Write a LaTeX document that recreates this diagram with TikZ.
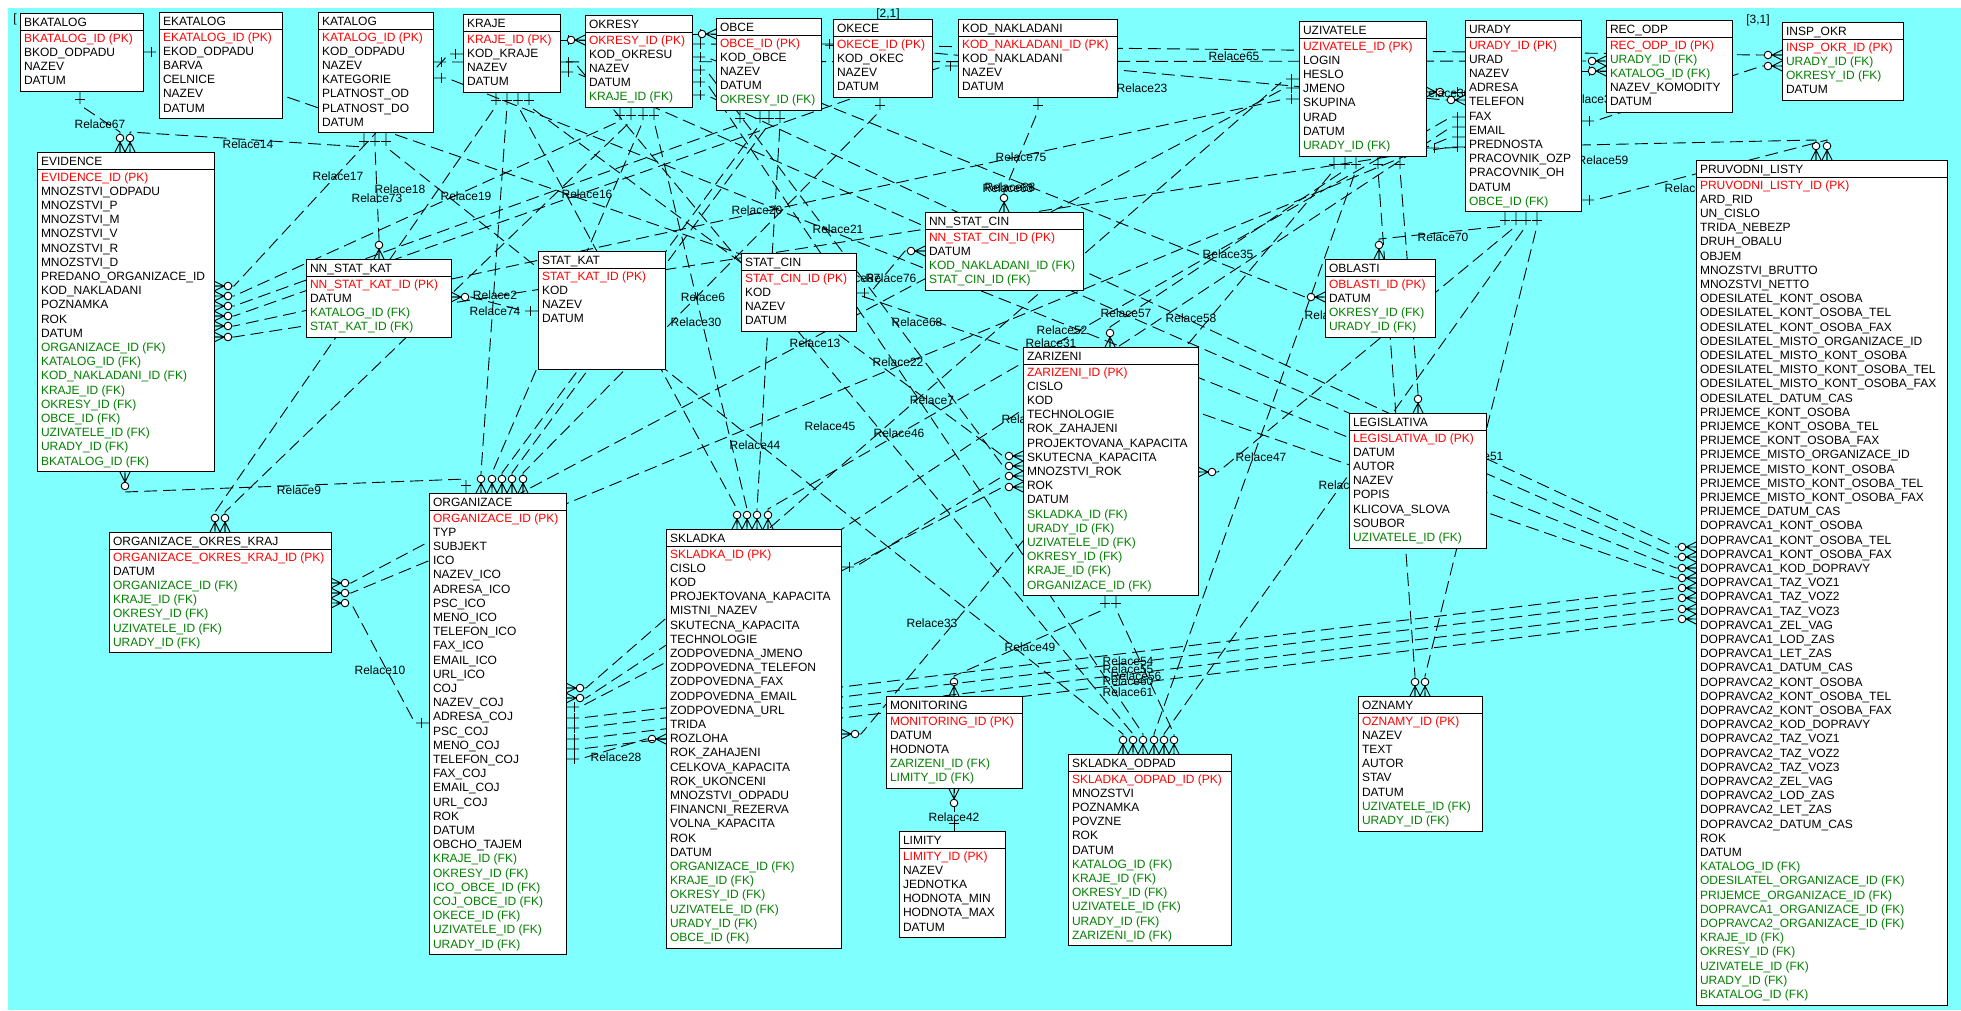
\documentclass[tikz,border=0pt]{standalone}
\usepackage{fontspec}
\setmainfont{Liberation Sans}
\usetikzlibrary{decorations.markings}
\definecolor{bgc}{RGB}{128,255,255}
\definecolor{pkred}{RGB}{255,0,0}
\definecolor{fkgreen}{RGB}{0,128,0}
\pgfdeclarelayer{back}
\pgfdeclarelayer{bg}
\pgfsetlayers{back,bg,main}
\newcommand\pkey[1]{\textcolor{pkred}{#1}}
\newcommand\fkey[1]{\textcolor{fkgreen}{#1}}
\tikzset{
  tabbox/.style={draw=black, fill=white, line width=1pt, inner sep=0pt, outer sep=0pt, rectangle},
  tabline/.style={draw=black, line width=1pt},
  tabtxt/.style={inner sep=0pt, outer sep=0pt, font=\fontsize{12}{14.2}\selectfont},
  lbl/.style={inner sep=0pt, outer sep=0pt, font=\fontsize{12}{14}\selectfont},
  relline/.style={draw=black, line width=0.9pt, dash pattern=on 13pt off 6pt,
    postaction={decorate},
    decoration={markings,
      mark=at position 8pt with {\draw[solid,line width=0.9pt] (0,-5pt) -- (0,5pt);},
      mark=at position -14pt with {\draw[solid,line width=0.9pt,fill=white] (0,0) circle (3.8pt);},
      mark=at position -10pt with {\draw[solid,line width=0.9pt] (0,0) -- (10pt,5pt) (0,0) -- (10pt,-5pt) (0,0) -- (10pt,0);}
    }}
}
\newcommand\etable[7]{%
  \expandafter\gdef\csname bx@#1\endcsname{#2}%
  \expandafter\gdef\csname by@#1\endcsname{#3}%
  \node[tabbox, minimum width=#4pt, minimum height=#5pt, anchor=north west] (#1) at (#2,#3) {};
  \draw[tabline] ([yshift=-17.5pt]#1.north west) -- ([yshift=-17.5pt]#1.north east);
  \node[tabtxt, anchor=base west] (#1-t) at ([shift={(4,13.5)}]#1.north west) {#6};
  \node[tabtxt, align=left, anchor=north west] (#1-r) at ([shift={(4,19)}]#1.north west) {\rule{0pt}{10pt}#7};
}
\newcommand\sidev[3]{\if#1n\def#2{0}\def#3{-1}\fi\if#1s\def#2{0}\def#3{1}\fi\if#1e\def#2{1}\def#3{0}\fi\if#1w\def#2{-1}\def#3{0}\fi}
\newcommand\erel[8]{%
  \edef\rpx{\csname bx@#1\endcsname}\edef\rpy{\csname by@#1\endcsname}%
  \edef\rcx{\csname bx@#5\endcsname}\edef\rcy{\csname by@#5\endcsname}%
  \sidev{#2}\pdxx\pdyy
  \sidev{#6}\cdxx\cdyy
  \path ([shift={({#3-\rpx},{#4-\rpy})}]#1.north west) coordinate (rp)
        ([shift={({#7-\rcx},{#8-\rcy})}]#5.north west) coordinate (rc);
  \draw[relline] (rp) -- ([shift={({14*\pdxx},{14*\pdyy})}]rp) -- ([shift={({20*\cdxx},{20*\cdyy})}]rc) -- (rc);
}
\newcommand\srelx[6]{%
  \edef\rpx{\csname bx@#1\endcsname}\edef\rpy{\csname by@#1\endcsname}%
  \edef\rcx{\csname bx@#4\endcsname}\edef\rcy{\csname by@#4\endcsname}%
  \path ([shift={({#2-\rpx},{#3-\rpy})}]#1.north west) coordinate (rp)
        ([shift={({#5-\rcx},{#6-\rcy})}]#4.north west) coordinate (rc);
  \draw[relline] (rp) -- (rc);
}
\newcommand\elabel[4]{\node[lbl] (#1) at (#2,#3) {#4};}
\begin{document}
\catcode`\_=12
\begin{tikzpicture}[x=1pt,y=-1pt]
\useasboundingbox (0,0) rectangle (1961,1010);
\begin{pgfonlayer}{back}
\fill[white] (0,0) rectangle (1961,1010);
\fill[bgc] (8,8) rectangle (1961,1010);
\end{pgfonlayer}

% ---------------- tables ----------------
\etable{bkatalog}{20}{13}{123}{78.3}{BKATALOG}{\pkey{BKATALOG_ID (PK)}\\BKOD_ODPADU\\NAZEV\\DATUM}
\etable{ekatalog}{159}{12}{123}{106.7}{EKATALOG}{\pkey{EKATALOG_ID (PK)}\\EKOD_ODPADU\\BARVA\\CELNICE\\NAZEV\\DATUM}
\etable{katalog}{318}{12}{115}{120.9}{KATALOG}{\pkey{KATALOG_ID (PK)}\\KOD_ODPADU\\NAZEV\\KATEGORIE\\PLATNOST_OD\\PLATNOST_DO\\DATUM}
\etable{kraje}{463}{14}{97}{78.3}{KRAJE}{\pkey{KRAJE_ID (PK)}\\KOD_KRAJE\\NAZEV\\DATUM}
\etable{okresy}{585}{15}{107}{92.5}{OKRESY}{\pkey{OKRESY_ID (PK)}\\KOD_OKRESU\\NAZEV\\DATUM\\\fkey{KRAJE_ID (FK)}}
\etable{obce}{716}{18}{105}{92.5}{OBCE}{\pkey{OBCE_ID (PK)}\\KOD_OBCE\\NAZEV\\DATUM\\\fkey{OKRESY_ID (FK)}}
\etable{okece}{833}{19}{99}{78.3}{OKECE}{\pkey{OKECE_ID (PK)}\\KOD_OKEC\\NAZEV\\DATUM}
\etable{kodnakl}{958}{19}{159}{78.3}{KOD_NAKLADANI}{\pkey{KOD_NAKLADANI_ID (PK)}\\KOD_NAKLADANI\\NAZEV\\DATUM}
\etable{uzivatele}{1299}{21}{127}{135.1}{UZIVATELE}{\pkey{UZIVATELE_ID (PK)}\\LOGIN\\HESLO\\JMENO\\SKUPINA\\URAD\\DATUM\\\fkey{URADY_ID (FK)}}
\etable{urady}{1465}{20}{116}{191.9}{URADY}{\pkey{URADY_ID (PK)}\\URAD\\NAZEV\\ADRESA\\TELEFON\\FAX\\EMAIL\\PREDNOSTA\\PRACOVNIK_OZP\\PRACOVNIK_OH\\DATUM\\\fkey{OBCE_ID (FK)}}
\etable{recodp}{1606}{20}{126}{92.5}{REC_ODP}{\pkey{REC_ODP_ID (PK)}\\\fkey{URADY_ID (FK)}\\\fkey{KATALOG_ID (FK)}\\NAZEV_KOMODITY\\DATUM}
\etable{inspokr}{1782}{22}{121}{78.3}{INSP_OKR}{\pkey{INSP_OKR_ID (PK)}\\\fkey{URADY_ID (FK)}\\\fkey{OKRESY_ID (FK)}\\DATUM}
\etable{evidence}{37}{152}{177}{319.7}{EVIDENCE}{\pkey{EVIDENCE_ID (PK)}\\MNOZSTVI_ODPADU\\MNOZSTVI_P\\MNOZSTVI_M\\MNOZSTVI_V\\MNOZSTVI_R\\MNOZSTVI_D\\PREDANO_ORGANIZACE_ID\\KOD_NAKLADANI\\POZNAMKA\\ROK\\DATUM\\\fkey{ORGANIZACE_ID (FK)}\\\fkey{KATALOG_ID (FK)}\\\fkey{KOD_NAKLADANI_ID (FK)}\\\fkey{KRAJE_ID (FK)}\\\fkey{OKRESY_ID (FK)}\\\fkey{OBCE_ID (FK)}\\\fkey{UZIVATELE_ID (FK)}\\\fkey{URADY_ID (FK)}\\\fkey{BKATALOG_ID (FK)}}
\etable{nnstatkat}{306}{259}{145}{78.3}{NN_STAT_KAT}{\pkey{NN_STAT_KAT_ID (PK)}\\DATUM\\\fkey{KATALOG_ID (FK)}\\\fkey{STAT_KAT_ID (FK)}}
\etable{statkat}{538}{251}{127}{118}{STAT_KAT}{\pkey{STAT_KAT_ID (PK)}\\KOD\\NAZEV\\DATUM}
\etable{statcin}{741}{253}{115}{78.3}{STAT_CIN}{\pkey{STAT_CIN_ID (PK)}\\KOD\\NAZEV\\DATUM}
\etable{nnstatcin}{925}{212}{158}{78.3}{NN_STAT_CIN}{\pkey{NN_STAT_CIN_ID (PK)}\\DATUM\\\fkey{KOD_NAKLADANI_ID (FK)}\\\fkey{STAT_CIN_ID (FK)}}
\etable{oblasti}{1325}{259}{110}{78.3}{OBLASTI}{\pkey{OBLASTI_ID (PK)}\\DATUM\\\fkey{OKRESY_ID (FK)}\\\fkey{URADY_ID (FK)}}
\etable{zarizeni}{1023}{347}{175}{248.7}{ZARIZENI}{\pkey{ZARIZENI_ID (PK)}\\CISLO\\KOD\\TECHNOLOGIE\\ROK_ZAHAJENI\\PROJEKTOVANA_KAPACITA\\SKUTECNA_KAPACITA\\MNOZSTVI_ROK\\ROK\\DATUM\\\fkey{SKLADKA_ID (FK)}\\\fkey{URADY_ID (FK)}\\\fkey{UZIVATELE_ID (FK)}\\\fkey{OKRESY_ID (FK)}\\\fkey{KRAJE_ID (FK)}\\\fkey{ORGANIZACE_ID (FK)}}
\etable{legislativa}{1349}{413}{137}{135.1}{LEGISLATIVA}{\pkey{LEGISLATIVA_ID (PK)}\\DATUM\\AUTOR\\NAZEV\\POPIS\\KLICOVA_SLOVA\\SOUBOR\\\fkey{UZIVATELE_ID (FK)}}
\etable{ookraj}{109}{532}{222}{120.9}{ORGANIZACE_OKRES_KRAJ}{\pkey{ORGANIZACE_OKRES_KRAJ_ID (PK)}\\DATUM\\\fkey{ORGANIZACE_ID (FK)}\\\fkey{KRAJE_ID (FK)}\\\fkey{OKRESY_ID (FK)}\\\fkey{UZIVATELE_ID (FK)}\\\fkey{URADY_ID (FK)}}
\etable{organizace}{429}{493}{137}{461.7}{ORGANIZACE}{\pkey{ORGANIZACE_ID (PK)}\\TYP\\SUBJEKT\\ICO\\NAZEV_ICO\\ADRESA_ICO\\PSC_ICO\\MENO_ICO\\TELEFON_ICO\\FAX_ICO\\EMAIL_ICO\\URL_ICO\\COJ\\NAZEV_COJ\\ADRESA_COJ\\PSC_COJ\\MENO_COJ\\TELEFON_COJ\\FAX_COJ\\EMAIL_COJ\\URL_COJ\\ROK\\DATUM\\OBCHO_TAJEM\\\fkey{KRAJE_ID (FK)}\\\fkey{OKRESY_ID (FK)}\\\fkey{ICO_OBCE_ID (FK)}\\\fkey{COJ_OBCE_ID (FK)}\\\fkey{OKECE_ID (FK)}\\\fkey{UZIVATELE_ID (FK)}\\\fkey{URADY_ID (FK)}}
\etable{skladka}{666}{529}{175}{419.1}{SKLADKA}{\pkey{SKLADKA_ID (PK)}\\CISLO\\KOD\\PROJEKTOVANA_KAPACITA\\MISTNI_NAZEV\\SKUTECNA_KAPACITA\\TECHNOLOGIE\\ZODPOVEDNA_JMENO\\ZODPOVEDNA_TELEFON\\ZODPOVEDNA_FAX\\ZODPOVEDNA_EMAIL\\ZODPOVEDNA_URL\\TRIDA\\ROZLOHA\\ROK_ZAHAJENI\\CELKOVA_KAPACITA\\ROK_UKONCENI\\MNOZSTVI_ODPADU\\FINANCNI_REZERVA\\VOLNA_KAPACITA\\ROK\\DATUM\\\fkey{ORGANIZACE_ID (FK)}\\\fkey{KRAJE_ID (FK)}\\\fkey{OKRESY_ID (FK)}\\\fkey{UZIVATELE_ID (FK)}\\\fkey{URADY_ID (FK)}\\\fkey{OBCE_ID (FK)}}
\etable{monitoring}{886}{696}{136}{92.5}{MONITORING}{\pkey{MONITORING_ID (PK)}\\DATUM\\HODNOTA\\\fkey{ZARIZENI_ID (FK)}\\\fkey{LIMITY_ID (FK)}}
\etable{limity}{899}{831}{106}{106.7}{LIMITY}{\pkey{LIMITY_ID (PK)}\\NAZEV\\JEDNOTKA\\HODNOTA_MIN\\HODNOTA_MAX\\DATUM}
\etable{skladkaodpad}{1068}{754}{163}{191.9}{SKLADKA_ODPAD}{\pkey{SKLADKA_ODPAD_ID (PK)}\\MNOZSTVI\\POZNAMKA\\POVZNE\\ROK\\DATUM\\\fkey{KATALOG_ID (FK)}\\\fkey{KRAJE_ID (FK)}\\\fkey{OKRESY_ID (FK)}\\\fkey{UZIVATELE_ID (FK)}\\\fkey{URADY_ID (FK)}\\\fkey{ZARIZENI_ID (FK)}}
\etable{oznamy}{1358}{696}{124}{135.1}{OZNAMY}{\pkey{OZNAMY_ID (PK)}\\NAZEV\\TEXT\\AUTOR\\STAV\\DATUM\\\fkey{UZIVATELE_ID (FK)}\\\fkey{URADY_ID (FK)}}
\etable{pruvodni}{1696}{160}{251}{845.1}{PRUVODNI_LISTY}{\pkey{PRUVODNI_LISTY_ID (PK)}\\ARD_RID\\UN_CISLO\\TRIDA_NEBEZP\\DRUH_OBALU\\OBJEM\\MNOZSTVI_BRUTTO\\MNOZSTVI_NETTO\\ODESILATEL_KONT_OSOBA\\ODESILATEL_KONT_OSOBA_TEL\\ODESILATEL_KONT_OSOBA_FAX\\ODESILATEL_MISTO_ORGANIZACE_ID\\ODESILATEL_MISTO_KONT_OSOBA\\ODESILATEL_MISTO_KONT_OSOBA_TEL\\ODESILATEL_MISTO_KONT_OSOBA_FAX\\ODESILATEL_DATUM_CAS\\PRIJEMCE_KONT_OSOBA\\PRIJEMCE_KONT_OSOBA_TEL\\PRIJEMCE_KONT_OSOBA_FAX\\PRIJEMCE_MISTO_ORGANIZACE_ID\\PRIJEMCE_MISTO_KONT_OSOBA\\PRIJEMCE_MISTO_KONT_OSOBA_TEL\\PRIJEMCE_MISTO_KONT_OSOBA_FAX\\PRIJEMCE_DATUM_CAS\\DOPRAVCA1_KONT_OSOBA\\DOPRAVCA1_KONT_OSOBA_TEL\\DOPRAVCA1_KONT_OSOBA_FAX\\DOPRAVCA1_KOD_DOPRAVY\\DOPRAVCA1_TAZ_VOZ1\\DOPRAVCA1_TAZ_VOZ2\\DOPRAVCA1_TAZ_VOZ3\\DOPRAVCA1_ZEL_VAG\\DOPRAVCA1_LOD_ZAS\\DOPRAVCA1_LET_ZAS\\DOPRAVCA1_DATUM_CAS\\DOPRAVCA2_KONT_OSOBA\\DOPRAVCA2_KONT_OSOBA_TEL\\DOPRAVCA2_KONT_OSOBA_FAX\\DOPRAVCA2_KOD_DOPRAVY\\DOPRAVCA2_TAZ_VOZ1\\DOPRAVCA2_TAZ_VOZ2\\DOPRAVCA2_TAZ_VOZ3\\DOPRAVCA2_ZEL_VAG\\DOPRAVCA2_LOD_ZAS\\DOPRAVCA2_LET_ZAS\\DOPRAVCA2_DATUM_CAS\\ROK\\DATUM\\\fkey{KATALOG_ID (FK)}\\\fkey{ODESILATEL_ORGANIZACE_ID (FK)}\\\fkey{PRIJEMCE_ORGANIZACE_ID (FK)}\\\fkey{DOPRAVCA1_ORGANIZACE_ID (FK)}\\\fkey{DOPRAVCA2_ORGANIZACE_ID (FK)}\\\fkey{KRAJE_ID (FK)}\\\fkey{OKRESY_ID (FK)}\\\fkey{UZIVATELE_ID (FK)}\\\fkey{URADY_ID (FK)}\\\fkey{BKATALOG_ID (FK)}}

% ---------------- relations (behind the tables) ----------------
\begin{pgfonlayer}{bg}
% BKATALOG
\erel{bkatalog}{s}{80}{91}{evidence}{n}{120}{152}
\erel{bkatalog}{e}{143}{52}{pruvodni}{w}{1696}{578}
% KATALOG
\erel{katalog}{s}{364}{133}{evidence}{n}{130}{152}
\erel{katalog}{s}{375}{133}{nnstatkat}{n}{379}{259}
\erel{katalog}{s}{386}{133}{skladkaodpad}{n}{1123}{754}
\erel{katalog}{e}{433}{62}{recodp}{w}{1606}{61}
\erel{katalog}{e}{433}{78}{pruvodni}{w}{1696}{568}
% KRAJE
\srelx{kraje}{560}{40}{okresy}{585}{40}
\erel{kraje}{w}{463}{54}{evidence}{e}{214}{286}
\erel{kraje}{s}{496}{92}{ookraj}{n}{215}{532}
\erel{kraje}{s}{507}{92}{organizace}{n}{481}{493}
\erel{kraje}{s}{518}{92}{skladka}{n}{737}{529}
\erel{kraje}{s}{529}{92}{zarizeni}{w}{1023}{456}
\erel{kraje}{e}{560}{62}{skladkaodpad}{n}{1133}{754}
\erel{kraje}{e}{560}{72}{pruvodni}{w}{1696}{557}
% OKRESY
\srelx{okresy}{692}{34}{obce}{716}{34}
\erel{okresy}{e}{692}{44}{inspokr}{w}{1782}{55}
\erel{okresy}{e}{692}{57}{oblasti}{w}{1325}{297}
\erel{okresy}{e}{692}{70}{zarizeni}{w}{1023}{466}
\erel{okresy}{e}{692}{82}{skladkaodpad}{n}{1143}{754}
\erel{okresy}{e}{692}{95}{pruvodni}{w}{1696}{547}
\erel{okresy}{s}{620}{107}{evidence}{e}{214}{296}
\erel{okresy}{s}{631}{107}{ookraj}{n}{225}{532}
\erel{okresy}{s}{643}{107}{organizace}{n}{492}{493}
\erel{okresy}{s}{654}{107}{skladka}{n}{747}{529}
% OBCE
\erel{obce}{e}{821}{44}{urady}{w}{1465}{100}
\erel{obce}{s}{740}{110}{evidence}{e}{214}{306}
\erel{obce}{s}{760}{110}{organizace}{n}{502}{493}
\erel{obce}{s}{769}{110}{organizace}{n}{512}{493}
\erel{obce}{s}{780}{110}{skladka}{n}{757}{529}
% OKECE
\erel{okece}{s}{880}{97}{organizace}{n}{523}{493}
% KOD_NAKLADANI
\erel{kodnakl}{s}{1038}{97}{nnstatcin}{n}{1004}{212}
\erel{kodnakl}{w}{958}{66}{evidence}{e}{214}{316}
% UZIVATELE
\erel{uzivatele}{w}{1299}{99}{evidence}{e}{214}{326}
\erel{uzivatele}{w}{1299}{88}{ookraj}{e}{331}{583}
\erel{uzivatele}{w}{1299}{79}{organizace}{e}{566}{688}
\erel{uzivatele}{s}{1334}{156}{skladka}{e}{841}{734}
\erel{uzivatele}{s}{1345}{156}{zarizeni}{n}{1110}{347}
\erel{uzivatele}{s}{1356}{156}{skladkaodpad}{n}{1154}{754}
\erel{uzivatele}{s}{1378}{156}{oznamy}{n}{1415}{696}
\erel{uzivatele}{s}{1400}{156}{legislativa}{n}{1418}{413}
\erel{uzivatele}{e}{1426}{148}{pruvodni}{n}{1816}{160}
% URADY
\srelx{urady}{1465}{92}{uzivatele}{1426}{92}
\srelx{urady}{1581}{71}{recodp}{1606}{71}
\erel{urady}{e}{1581}{121}{inspokr}{w}{1782}{66}
\erel{urady}{w}{1465}{147}{evidence}{e}{214}{337}
\erel{urady}{s}{1505}{212}{oblasti}{n}{1379}{259}
\erel{urady}{w}{1465}{137}{ookraj}{e}{331}{593}
\erel{urady}{w}{1465}{127}{organizace}{e}{566}{698}
\erel{urady}{w}{1465}{117}{skladka}{n}{768}{529}
\erel{urady}{s}{1516}{212}{zarizeni}{e}{1198}{472}
\erel{urady}{s}{1526}{212}{skladkaodpad}{n}{1164}{754}
\erel{urady}{s}{1537}{212}{oznamy}{n}{1425}{696}
\erel{urady}{e}{1581}{200}{pruvodni}{n}{1827}{160}
% ZARIZENI
\erel{zarizeni}{s}{1105}{595}{monitoring}{n}{954}{696}
\erel{zarizeni}{s}{1116}{595}{skladkaodpad}{n}{1174}{754}
% SKLADKA
\erel{skladka}{e}{841}{567}{zarizeni}{w}{1023}{476}
% ORGANIZACE
\erel{organizace}{n}{466}{493}{evidence}{s}{125}{472}
\erel{organizace}{w}{429}{723}{ookraj}{e}{331}{603}
\erel{organizace}{e}{566}{759}{skladka}{w}{666}{739}
\erel{organizace}{e}{566}{707}{zarizeni}{w}{1023}{487}
\erel{organizace}{e}{566}{718}{pruvodni}{w}{1696}{588}
\erel{organizace}{e}{566}{728}{pruvodni}{w}{1696}{598}
\erel{organizace}{e}{566}{739}{pruvodni}{w}{1696}{609}
\erel{organizace}{e}{566}{749}{pruvodni}{w}{1696}{619}
% STAT_KAT, STAT_CIN, LIMITY
\erel{statkat}{w}{538}{311}{nnstatkat}{e}{451}{297}
\erel{statcin}{e}{856}{293}{nnstatcin}{w}{925}{251}
\erel{limity}{n}{954}{831}{monitoring}{s}{954}{789}

% ---------------- labels ----------------
\elabel{l67}{100}{124}{Relace67}
\elabel{l14}{248}{144}{Relace14}
\elabel{l17}{338}{176}{Relace17}
\elabel{l18}{400}{189}{Relace18}
\elabel{l73}{377}{198}{Relace73}
\elabel{l19}{466}{196}{Relace19}
\elabel{l16}{587}{194}{Relace16}
\elabel{l2}{495}{295}{Relace2}
\elabel{l74}{495}{311}{Relace74}
\elabel{l65}{1234}{56}{Relace65}
\elabel{l23}{1142}{88}{Relace23}
\elabel{l75}{1021}{157}{Relace75}
\elabel{l63}{1008}{188}{Relace63}
\elabel{l88}{1010}{187}{Relace88}
\elabel{l20}{757}{210}{Relace20}
\elabel{l21}{838}{229}{Relace21}
\elabel{l35}{1228}{254}{Relace35}
\elabel{l87}{855}{278}{Relace87}
\elabel{l76}{891}{278}{Relace76}
\elabel{l68}{917}{322}{Relace68}
\elabel{l57}{1126}{313}{Relace57}
\elabel{l58}{1191}{318}{Relace58}
\elabel{l52}{1062}{330}{Relace52}
\elabel{l31}{1051}{343}{Relace31}
\elabel{l13}{815}{343}{Relace13}
\elabel{l6}{703}{297}{Relace6}
\elabel{l30}{696}{322}{Relace30}
\elabel{l59}{1603}{160}{Relace59}
\elabel{l70}{1443}{237}{Relace70}
\elabel{l62}{1690}{188}{Relace62}
\elabel{l36}{1445}{93}{Relace36}
\elabel{l38}{1592}{99}{Relace38}
\elabel{l53}{1330}{315}{Relace53}
\elabel{l51}{1478}{456}{Relace51}
\elabel{l50}{1344}{485}{Relace50}
\elabel{l22}{898}{362}{Relace22}
\elabel{l7}{932}{400}{Relace7}
\elabel{l45}{830}{426}{Relace45}
\elabel{l46}{899}{433}{Relace46}
\elabel{l44}{755}{445}{Relace44}
\elabel{l48}{1027}{419}{Relace48}
\elabel{l47}{1261}{457}{Relace47}
\elabel{l33}{932}{623}{Relace33}
\elabel{l49}{1030}{647}{Relace49}
\elabel{l54}{1128}{661}{Relace54}
\elabel{l55}{1128}{669}{Relace55}
\elabel{l56}{1136}{676}{Relace56}
\elabel{l60}{1128}{681}{Relace60}
\elabel{l61}{1128}{692}{Relace61}
\elabel{l42}{954}{817}{Relace42}
\elabel{l28}{616}{757}{Relace28}
\elabel{l9}{299}{490}{Relace9}
\elabel{l10}{380}{670}{Relace10}
\elabel{m21}{888}{14}{[2,1]}
\elabel{m31}{1758}{20}{[3,1]}
\elabel{m11}{15}{19}{[}
\end{pgfonlayer}
\end{tikzpicture}
\end{document}
